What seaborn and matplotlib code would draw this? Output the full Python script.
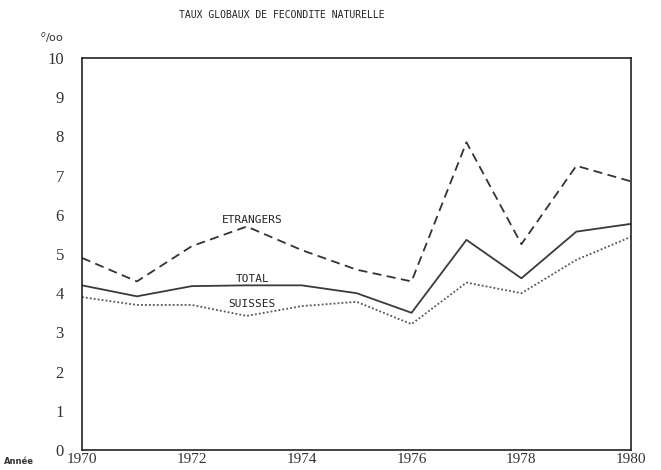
import matplotlib
matplotlib.use("Agg")
import matplotlib.pyplot as plt
import seaborn as sns
import pandas as pd

years = [1970, 1971, 1972, 1973, 1974, 1975, 1976, 1977, 1978, 1979, 1980]
etrangers = [4.9, 4.3, 5.2, 5.7, 5.1, 4.6, 4.3, 7.85, 5.25, 7.25, 6.85]
total = [4.2, 3.92, 4.18, 4.2, 4.2, 4.0, 3.5, 5.36, 4.38, 5.57, 5.77]
suisses = [3.9, 3.7, 3.7, 3.42, 3.67, 3.78, 3.21, 4.27, 4.0, 4.85, 5.44]
series_names = ["ETRANGERS", "TOTAL", "SUISSES"]
year_labels = ["1970", "1972", "1974", "1976", "1978", "1980"]
y_ticks = [0, 1, 2, 3, 4, 5, 6, 7, 8, 9, 10]

sns.set_theme(style="white")
plt.rcParams['font.family'] = ['DejaVu Sans']

df = pd.DataFrame({
    "year": years * 3,
    "value": etrangers + total + suisses,
    "serie": [series_names[0]] * len(years) + [series_names[1]] * len(years) + [series_names[2]] * len(years),
})

fig = plt.figure(figsize=(6.61, 4.70), dpi=100)
ax = fig.add_axes([0.124, 0.0426, 0.831, 0.834])

sns.lineplot(data=df, x="year", y="value", hue="serie", style="serie",
             palette={"ETRANGERS": "#333333", "TOTAL": "#3a3a3a", "SUISSES": "#555555"},
             dashes={"ETRANGERS": (5, 3), "TOTAL": "", "SUISSES": (1, 1.2)},
             linewidth=1.3, legend=False, ax=ax)

ax.set_xlim(1970, 1980)
ax.set_ylim(0, 10)
ax.set_xlabel("")
ax.set_ylabel("")
for s in ax.spines.values():
    s.set_color("#222222")
    s.set_linewidth(1.2)

ax.set_xticks(years)
ax.set_xticklabels([str(y) if str(y) in year_labels else "" for y in years],
                   fontfamily="Liberation Serif", fontsize=11, color="#333333")
ax.set_yticks(y_ticks)
ax.set_yticklabels([str(v) for v in y_ticks], fontfamily="Liberation Serif",
                   fontsize=12, color="#333333")
ax.tick_params(axis="x", direction="in", length=4, width=1, pad=2, colors="#333333")
ax.tick_params(axis="y", direction="in", length=4, width=1, pad=13, colors="#333333")

mono = "DejaVu Sans Mono"
fig.text(282 / 661, 1 - 15 / 470, "TAUX GLOBAUX DE FECONDITE NATURELLE", ha="center", va="center",
         fontfamily=mono, fontsize=7, color="#222222")
fig.text(52 / 661, 1 - 38 / 470, "$^{o}$/oo", ha="center", va="center", fontsize=8, color="#333333")
fig.text(4 / 661, 1 - 462 / 470, "Année", ha="left", va="center", fontsize=6,
         fontweight="bold", color="#333333")

ax.text(1973.1, 5.87, "ETRANGERS", ha="center", va="center", fontfamily=mono, fontsize=8, color="#222222")
ax.text(1973.1, 4.36, "TOTAL", ha="center", va="center", fontfamily=mono, fontsize=8, color="#222222")
ax.text(1973.1, 3.72, "SUISSES", ha="center", va="center", fontfamily=mono, fontsize=8, color="#222222")

fig.savefig("out.png", dpi=100)
